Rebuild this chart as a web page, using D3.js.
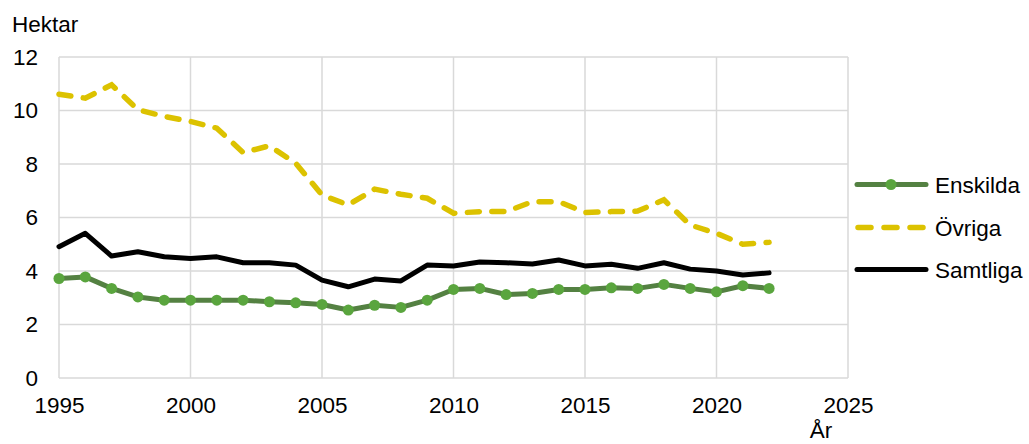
<!DOCTYPE html>
<html>
<head>
<meta charset="utf-8">
<script src="https://cdn.jsdelivr.net/npm/d3@7"></script>
<style>
  body { margin: 0; background: #fff; }
  svg { display: block; font-family: "Liberation Sans", Arial, sans-serif; }
</style>
</head>
<body>
<script>
/* Data */
var years = [1995, 1996, 1997, 1998, 1999, 2000, 2001, 2002, 2003, 2004, 2005, 2006, 2007, 2008,
             2009, 2010, 2011, 2012, 2013, 2014, 2015, 2016, 2017, 2018, 2019, 2020, 2021, 2022];

var enskilda = [3.72, 3.78, 3.35, 3.03, 2.91, 2.91, 2.91, 2.91, 2.85, 2.81, 2.75, 2.54, 2.72, 2.64,
                2.91, 3.31, 3.35, 3.12, 3.16, 3.31, 3.31, 3.37, 3.35, 3.50, 3.35, 3.22, 3.45, 3.35];

var ovriga = [10.61, 10.46, 10.96, 10.03, 9.78, 9.59, 9.34, 8.43, 8.68, 8.03, 6.84, 6.47, 7.06, 6.87,
              6.72, 6.16, 6.22, 6.22, 6.59, 6.59, 6.19, 6.22, 6.24, 6.66, 5.72, 5.41, 5.00, 5.07];

var samtliga = [4.91, 5.41, 4.56, 4.72, 4.53, 4.47, 4.53, 4.31, 4.31, 4.22, 3.66, 3.41, 3.70, 3.63,
                4.22, 4.19, 4.34, 4.31, 4.26, 4.41, 4.19, 4.25, 4.10, 4.31, 4.07, 4.00, 3.85, 3.93];

var xTicks = [1995, 2000, 2005, 2010, 2015, 2020, 2025];
var yTicks = [0, 2, 4, 6, 8, 10, 12];
var seriesNames = ["Enskilda", "Övriga", "Samtliga"];

/* Chart */
var width = 1029, height = 444;
var margin = {left: 59, right: 181, top: 57, bottom: 66};
var fontSize = 22.5;

var svg = d3.select("body").append("svg")
    .attr("width", width)
    .attr("height", height);

var x = d3.scaleLinear().domain([1995, 2025]).range([margin.left, width - margin.right]);
var y = d3.scaleLinear().domain([0, 12]).range([height - margin.bottom, margin.top]);

// grid
svg.append("g").selectAll("line.v")
    .data(xTicks).enter().append("line")
    .attr("x1", function(d) { return x(d); })
    .attr("x2", function(d) { return x(d); })
    .attr("y1", y(0)).attr("y2", y(12))
    .attr("stroke", "#d9d9d9").attr("stroke-width", 1.5);

svg.append("g").selectAll("line.h")
    .data(yTicks).enter().append("line")
    .attr("x1", x(1995)).attr("x2", x(2025))
    .attr("y1", function(d) { return y(d); })
    .attr("y2", function(d) { return y(d); })
    .attr("stroke", "#d9d9d9").attr("stroke-width", 1.5);

// axes
var xAxis = svg.append("g")
    .attr("transform", "translate(0," + y(0) + ")")
    .call(d3.axisBottom(x).tickValues(xTicks).tickFormat(d3.format("d")).tickSize(0).tickPadding(19));
xAxis.select(".domain").remove();
xAxis.selectAll("text").attr("font-size", fontSize).attr("fill", "#000").attr("font-family", "Liberation Sans, Arial, sans-serif");

var yAxis = svg.append("g")
    .attr("transform", "translate(" + x(1995) + ",0)")
    .call(d3.axisLeft(y).tickValues(yTicks).tickSize(0).tickPadding(21));
yAxis.select(".domain").remove();
yAxis.selectAll("text").attr("font-size", fontSize).attr("fill", "#000").attr("font-family", "Liberation Sans, Arial, sans-serif");

svg.append("text").attr("x", 12).attr("y", 32).attr("font-size", fontSize).text("Hektar");
svg.append("text").attr("x", 821).attr("y", 438).attr("font-size", fontSize)
    .attr("text-anchor", "middle").text("År");

// lines
var line = d3.line()
    .x(function(d, i) { return x(years[i]); })
    .y(function(d) { return y(d); });

svg.append("path").datum(ovriga)
    .attr("d", line).attr("fill", "none")
    .attr("stroke", "#dcc200").attr("stroke-width", 5.5)
    .attr("stroke-dasharray", "12,12.5").attr("stroke-linecap", "round");

svg.append("path").datum(samtliga)
    .attr("d", line).attr("fill", "none")
    .attr("stroke", "#000").attr("stroke-width", 5)
    .attr("stroke-linejoin", "round").attr("stroke-linecap", "round");

svg.append("path").datum(enskilda)
    .attr("d", line).attr("fill", "none")
    .attr("stroke", "#548142").attr("stroke-width", 5)
    .attr("stroke-linejoin", "round");

svg.append("g").selectAll("circle")
    .data(enskilda).enter().append("circle")
    .attr("cx", function(d, i) { return x(years[i]); })
    .attr("cy", function(d) { return y(d); })
    .attr("r", 5.5)
    .attr("fill", "#5aa53e");

// legend
var lg = svg.append("g");
var ly = [184.5, 227.5, 269.5];

lg.append("line").attr("x1", 857).attr("x2", 926).attr("y1", ly[0]).attr("y2", ly[0])
    .attr("stroke", "#548142").attr("stroke-width", 5).attr("stroke-linecap", "round");
lg.append("circle").attr("cx", 891).attr("cy", ly[0]).attr("r", 5.5).attr("fill", "#5aa53e");

lg.append("line").attr("x1", 858).attr("x2", 926).attr("y1", ly[1]).attr("y2", ly[1])
    .attr("stroke", "#dcc200").attr("stroke-width", 5.5)
    .attr("stroke-dasharray", "13,13").attr("stroke-linecap", "round");

lg.append("line").attr("x1", 857).attr("x2", 926).attr("y1", ly[2]).attr("y2", ly[2])
    .attr("stroke", "#000").attr("stroke-width", 5).attr("stroke-linecap", "round");

lg.selectAll("text").data(seriesNames).enter().append("text")
    .attr("x", 935)
    .attr("y", function(d, i) { return ly[i] + 8; })
    .attr("font-size", fontSize)
    .text(function(d) { return d; });
</script>
</body>
</html>
